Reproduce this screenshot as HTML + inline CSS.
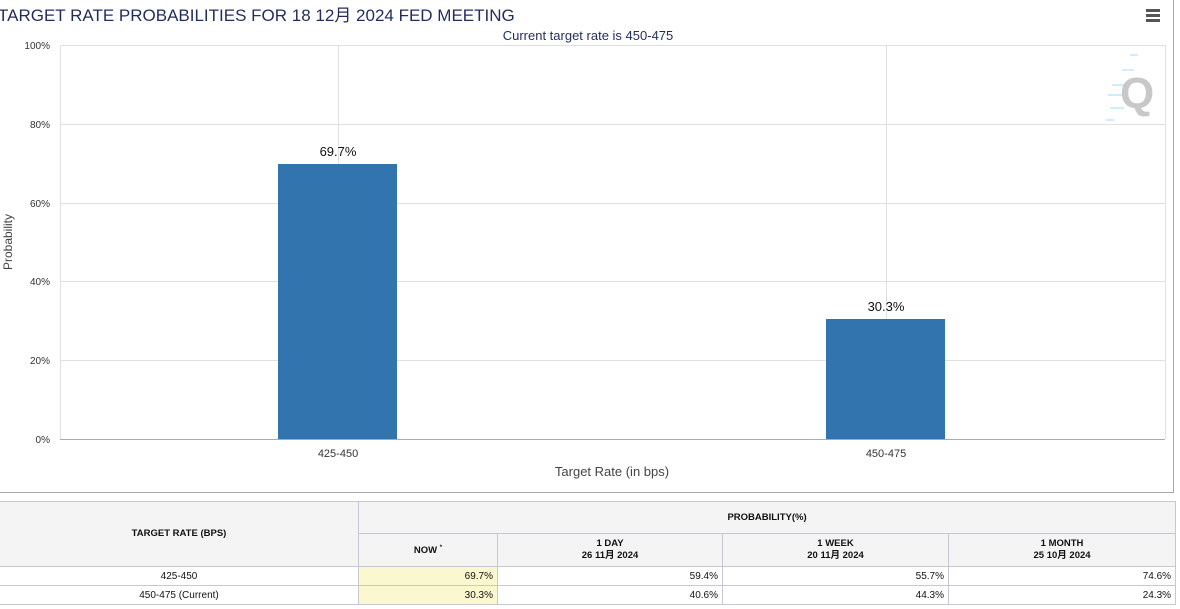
<!DOCTYPE html>
<html><head><meta charset="utf-8"><style>
body{margin:0;width:1180px;height:609px;overflow:hidden;background:#fff;font-family:"Liberation Sans","Noto Sans CJK SC",sans-serif;position:relative}
.t{position:absolute;white-space:nowrap}
table{position:absolute;left:-1px;top:501px;width:1176px;table-layout:fixed;border-collapse:collapse;font-size:10px;color:#111}
td{border:1px solid #c8c8d4;padding:0 4px;box-sizing:border-box}
th{border:1px solid #c8c8d4;background:#f4f4f4;font-weight:bold;font-size:9.5px;line-height:12px;padding:0}
</style></head><body>
<div class="t" style="left:-2px;top:1px;font-size:17px;color:#1f2d5c">TARGET RATE PROBABILITIES FOR 18 12月 2024 FED MEETING</div>
<div style="position:absolute;left:1146px;top:9px;width:14px;height:3px;background:#555;box-shadow:0 5px 0 #555,0 10px 0 #555"></div>
<div style="position:absolute;left:1173px;top:0;width:1px;height:493px;background:#aaa"></div>
<div style="position:absolute;left:0;top:492px;width:1174px;height:1px;background:#aaa"></div>
<svg style="position:absolute;left:0;top:0" width="1180" height="500" font-family="Liberation Sans, DejaVu Sans, sans-serif">
<text x="588" y="40" font-size="13" fill="#1f2d5c" text-anchor="middle">Current target rate is 450-475</text>
<g stroke="#e0e0e0" stroke-width="1">
<line x1="60" y1="45.5" x2="1165" y2="45.5"/><line x1="60" y1="124.5" x2="1165" y2="124.5"/><line x1="60" y1="203.5" x2="1165" y2="203.5"/><line x1="60" y1="281.5" x2="1165" y2="281.5"/><line x1="60" y1="360.5" x2="1165" y2="360.5"/>
<line x1="60.5" y1="45" x2="60.5" y2="439"/><line x1="338.5" y1="45" x2="338.5" y2="439"/><line x1="886.5" y1="45" x2="886.5" y2="439"/><line x1="1165.5" y1="45" x2="1165.5" y2="439"/>
</g>
<line x1="60" y1="439.5" x2="1165" y2="439.5" stroke="#aaa"/>
<g font-size="10" fill="#333" text-anchor="end">
<text x="50" y="49">100%</text><text x="50" y="128">80%</text><text x="50" y="207">60%</text><text x="50" y="285">40%</text><text x="50" y="364">20%</text><text x="50" y="443">0%</text></g>
<text transform="translate(12,242) rotate(-90)" font-size="12" fill="#444" text-anchor="middle">Probability</text>
<rect x="278" y="164" width="119" height="275" fill="#3274ae"/>
<rect x="826" y="319" width="119" height="120" fill="#3274ae"/>
<text x="338" y="156" font-size="13" fill="#111" text-anchor="middle">69.7%</text>
<text x="886" y="311" font-size="13" fill="#111" text-anchor="middle">30.3%</text>
<text x="338" y="457" font-size="11" fill="#333" text-anchor="middle">425-450</text>
<text x="886" y="457" font-size="11" fill="#333" text-anchor="middle">450-475</text>
<text x="612" y="476" font-size="13" fill="#444" text-anchor="middle">Target Rate (in bps)</text>
<g stroke="#cdeefa" stroke-width="2"><line x1="1130" y1="55" x2="1138" y2="55"/><line x1="1122" y1="70" x2="1134" y2="70"/><line x1="1112" y1="85" x2="1130" y2="85"/><line x1="1108" y1="95" x2="1126" y2="95"/><line x1="1110" y1="108" x2="1124" y2="108"/><line x1="1106" y1="120" x2="1114" y2="120"/></g>
<text x="1120" y="108" font-size="44" font-weight="bold" fill="#c8c8c8">Q</text>
</svg>
<table>
<colgroup><col style="width:359px"><col style="width:139px"><col style="width:225px"><col style="width:226px"><col style="width:227px"></colgroup>
<tr style="height:32px"><th rowspan="2">TARGET RATE (BPS)</th><th colspan="4">PROBABILITY(%)</th></tr>
<tr style="height:33px"><th>NOW <sup style="font-size:6px">*</sup></th><th>1 DAY<br>26 11月 2024</th><th>1 WEEK<br>20 11月 2024</th><th>1 MONTH<br>25 10月 2024</th></tr>
<tr style="height:19px"><td style="text-align:center">425-450</td><td style="text-align:right;background:#fbf8cf">69.7%</td><td style="text-align:right">59.4%</td><td style="text-align:right">55.7%</td><td style="text-align:right">74.6%</td></tr>
<tr style="height:19px"><td style="text-align:center">450-475 (Current)</td><td style="text-align:right;background:#fbf8cf">30.3%</td><td style="text-align:right">40.6%</td><td style="text-align:right">44.3%</td><td style="text-align:right">24.3%</td></tr>
</table>
</body></html>
